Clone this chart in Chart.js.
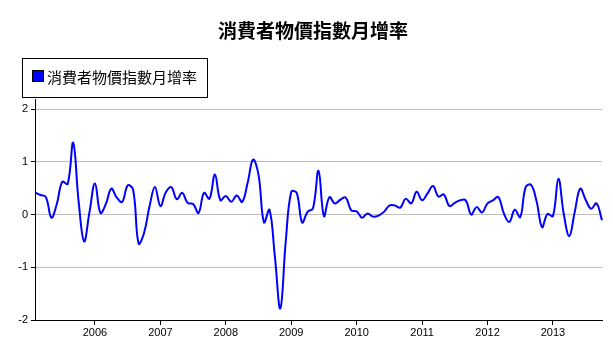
<!DOCTYPE html>
<html>
<head>
<meta charset="utf-8">
<script src="https://cdn.jsdelivr.net/npm/chart.js@4"></script>
<style>
  html, body { margin: 0; padding: 0; background: #fff; }
  #wrap { width: 613px; height: 341px; }
</style>
</head>
<body>
<div id="wrap"><canvas id="cpi-chart" width="613" height="341"></canvas></div>
<script>
// series: monthly CPI change (%), Feb 2005 .. Oct 2013
const seriesName = '消費者物價指數月增率';
const startYear = 2005;
const startMonth = 2;
const values2005 = [0.42, 0.37, 0.33, -0.06, 0.2, 0.62, 0.58, 1.36, 0.25, -0.51, 0.05];
const values2006 = [0.59, 0.03, 0.2, 0.49, 0.32, 0.24, 0.55, 0.47, -0.55, -0.35, 0.15, 0.52];
const values2007 = [0.16, 0.42, 0.52, 0.29, 0.41, 0.22, 0.2, 0.03, 0.41, 0.3, 0.76, 0.27];
const values2008 = [0.35, 0.24, 0.36, 0.24, 0.6, 1.04, 0.75, -0.15, 0.09, -0.8, -1.78, -0.5];
const values2009 = [0.43, 0.41, -0.15, 0.05, 0.12, 0.83, -0.03, 0.33, 0.21, 0.28, 0.32, 0.08];
const values2010 = [0.06, -0.06, 0.02, -0.04, -0.02, 0.05, 0.17, 0.17, 0.13, 0.3, 0.21, 0.43];
const values2011 = [0.27, 0.4, 0.54, 0.34, 0.38, 0.16, 0.22, 0.27, 0.27, 0.0, 0.14, 0.04];
const values2012 = [0.21, 0.27, 0.33, 0.02, -0.14, 0.09, -0.05, 0.52, 0.56, 0.25, -0.24, 0.01];
const values2013 = [-0.03, 0.68, 0.0, -0.41, 0.05, 0.49, 0.28, 0.11, 0.21, -0.11];
const yTicks = [-2, -1, 0, 1, 2];

const values = [].concat(values2005, values2006, values2007, values2008,
    values2009, values2010, values2011, values2012, values2013);

// month labels like 2005-02
const labels = values.map((v, i) => {
    const m = startMonth - 1 + i;
    const y = startYear + Math.floor(m / 12);
    return y + '-' + String(m % 12 + 1).padStart(2, '0');
});
const isJanuary = i => labels[i] && labels[i].endsWith('-01');

// title and framed legend box, drawn from the dataset
const headerPlugin = {
    id: 'header',
    afterDraw(chart) {
        const ctx = chart.ctx;
        const ds = chart.data.datasets[0];
        ctx.save();
        ctx.fillStyle = '#000';
        ctx.textAlign = 'center';
        ctx.textBaseline = 'middle';
        ctx.font = 'bold 19px "Noto Sans CJK TC"';
        ctx.fillText(ds.label, 313, 31);

        ctx.strokeStyle = '#000';
        ctx.lineWidth = 1;
        ctx.strokeRect(22.5, 58.5, 185, 39);
        ctx.fillStyle = ds.borderColor;
        ctx.fillRect(33, 71, 10, 10);
        ctx.strokeRect(32.5, 70.5, 11, 11);
        ctx.fillStyle = '#000';
        ctx.textAlign = 'left';
        ctx.font = '15px "Noto Sans CJK TC"';
        ctx.fillText(ds.label, 47, 77);
        ctx.restore();
    }
};

const ctx = document.getElementById('cpi-chart').getContext('2d');
new Chart(ctx, {
    type: 'line',
    data: {
        labels: labels,
        datasets: [{
            label: seriesName,
            data: values,
            borderColor: '#0000ff',
            borderWidth: 2,
            pointRadius: 0,
            fill: false,
            tension: 0.4,
        }],
    },
    options: {
        responsive: false,
        animation: false,
        layout: { padding: { left: 5, right: 11, top: 99, bottom: 0 } },
        plugins: {
            legend: { display: false },
            tooltip: { enabled: false },
            title: { display: false },
        },
        scales: {
            x: {
                offset: false,
                afterFit: s => { s.height = 21; },
                border: { color: '#000', width: 1 },
                grid: {
                    drawOnChartArea: false,
                    tickLength: 5,
                    color: c => isJanuary(c.index) ? '#000' : 'rgba(0,0,0,0)',
                },
                ticks: {
                    autoSkip: false,
                    maxRotation: 0,
                    padding: 1,
                    color: '#000',
                    font: { family: '"Liberation Sans"', size: 11 },
                    callback: (v, i) => isJanuary(i) ? labels[i].slice(0, 4) : '',
                },
            },
            y: {
                min: -2,
                max: 2.19,
                afterFit: s => { s.width = 30; },
                afterBuildTicks: s => { s.ticks = yTicks.map(v => ({ value: v })); },
                border: { color: '#000', width: 1 },
                grid: {
                    color: '#c0c0c0',
                    tickColor: '#000',
                    tickLength: 4,
                },
                ticks: {
                    padding: 3,
                    color: '#000',
                    font: { family: '"Liberation Sans"', size: 11 },
                },
            },
        },
    },
    plugins: [headerPlugin],
});
</script>
</body>
</html>
